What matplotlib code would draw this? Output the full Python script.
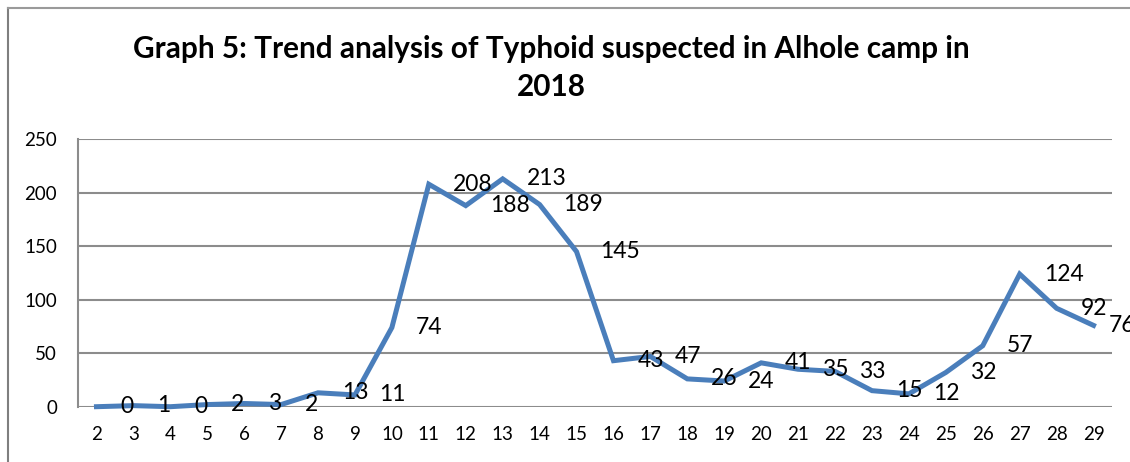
import matplotlib
matplotlib.use("Agg")
import matplotlib.pyplot as plt
from matplotlib.lines import Line2D

weeks = [str(w) for w in range(2, 30)]
cases = [0, 1, 0, 2, 3, 2, 13, 11, 74, 208, 188, 213, 189, 145,
         43, 47, 26, 24, 41, 35, 33, 15, 12, 32, 57, 124, 92, 76]
yticks = [0, 50, 100, 150, 200, 250]
title = "Graph 5: Trend analysis of Typhoid suspected in Alhole camp in\n2018"

plt.rcParams['font.family'] = ['Lato', 'DejaVu Sans']

W, H = 1130, 462
fig = plt.figure(figsize=(W / 100, H / 100), dpi=100)
ax = fig.add_axes([78 / W, 1 - 406.7 / H, (1112 - 78) / W, (406.7 - 139.3) / H])

x = list(range(len(weeks)))
ax.plot(x, cases, color='#4A7EBB', lw=3.6, solid_joinstyle='miter', clip_on=False, zorder=3)

for i, v in enumerate(cases):
    off = 24 if i < len(cases) - 1 else 15
    ax.annotate(str(v), (i, v), xytext=(off * 0.72, 0), textcoords='offset points',
                ha='left', va='center', fontsize=16.5, color='black', annotation_clip=False, zorder=4)

ax.set_xlim(-0.5, len(weeks) - 0.5)
ax.set_ylim(0, 250)
ax.set_yticks(yticks)
ax.set_xticks(x)
ax.set_xticklabels(weeks)
ax.tick_params(axis='both', length=0, labelsize=13.5, colors='black')
ax.tick_params(axis='x', pad=14)
ax.tick_params(axis='y', pad=15)
ax.grid(axis='y', color='#8C8C8C', lw=1.5)
ax.set_axisbelow(True)
for s in ['top', 'right', 'bottom']:
    ax.spines[s].set_visible(False)
ax.spines['left'].set_color('#8C8C8C')
ax.spines['left'].set_linewidth(1.5)

fig.text(551 / W, 1 - 68 / H, title, ha='center', va='center', fontsize=21.4,
         fontweight='bold', linespacing=1.4)

# outer chart border
fig.add_artist(Line2D([8 / W, 8 / W], [0, 1 - 8 / H], color='#7F7F7F', lw=1.5,
                      transform=fig.transFigure))
fig.add_artist(Line2D([8 / W, 1], [1 - 8 / H, 1 - 8 / H], color='#9A9A9A', lw=1.5,
                      transform=fig.transFigure))

fig.savefig('out.png', dpi=100)
